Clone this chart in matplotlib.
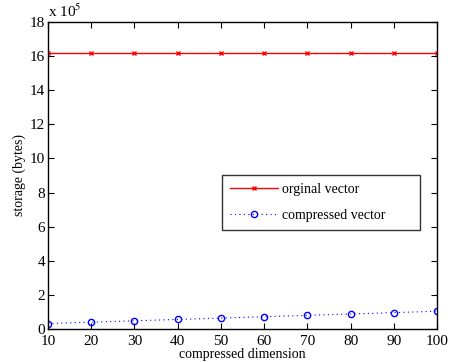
import matplotlib
matplotlib.use("Agg")
import matplotlib.pyplot as plt
from matplotlib.ticker import FuncFormatter

plt.rcParams["font.family"] = ["Liberation Serif", "DejaVu Serif"]
plt.rcParams["mathtext.fontset"] = "stix"

dims = [10, 20, 30, 40, 50, 60, 70, 80, 90, 100]
original_bytes = [16.2e5] * 10
compressed_bytes = [0.32e5, 0.40e5, 0.48e5, 0.56e5, 0.64e5,
                    0.72e5, 0.80e5, 0.88e5, 0.96e5, 1.04e5]

fig = plt.figure(figsize=(4.54, 3.62), dpi=100)
ax = fig.add_axes([0.1057, 0.0912, 0.857, 0.848])

ax.plot(dims, original_bytes, color="red", marker="x", markersize=3.5,
        linewidth=1.0, label="orginal vector")
ax.plot(dims, compressed_bytes, color="blue", linestyle=(0, (1, 3)),
        marker="o", markersize=4.5, markerfacecolor="none", linewidth=0.8,
        label="compressed vector")

ax.set_xlim(10, 100)
ax.set_ylim(0, 18e5)
ax.set_xticks(range(10, 101, 10))
ax.set_yticks([i * 2e5 for i in range(10)])
ax.yaxis.set_major_formatter(FuncFormatter(lambda v, p: f"{v / 1e5:g}"))
ax.tick_params(direction="in", top=True, right=True, labelsize=11, length=4,
               width=0.8, pad=2)
ax.tick_params(axis="x", pad=4)
for s in ax.spines.values():
    s.set_linewidth(1.0)

ax.text(0, 1.005, r"x 10$^5$", transform=ax.transAxes, fontsize=11,
        ha="left", va="bottom")
ax.set_xlabel("compressed dimension", fontsize=10, labelpad=0)
ax.set_ylabel("storage (bytes)", fontsize=10, labelpad=3)

# legend box stretched to a fixed width, entries kept on the left
leg = ax.legend(loc="upper left",
                bbox_to_anchor=(222 / 454, 1 - 229 / 362, 198 / 454, 54 / 362),
                bbox_transform=fig.transFigure, mode="expand", borderaxespad=0,
                fontsize=10, frameon=True, fancybox=False, edgecolor="black",
                handlelength=3.4, borderpad=0.6, labelspacing=0.9,
                handletextpad=0.3)
leg.get_frame().set_linewidth(1.0)

fig.savefig("out.png", dpi=100)
